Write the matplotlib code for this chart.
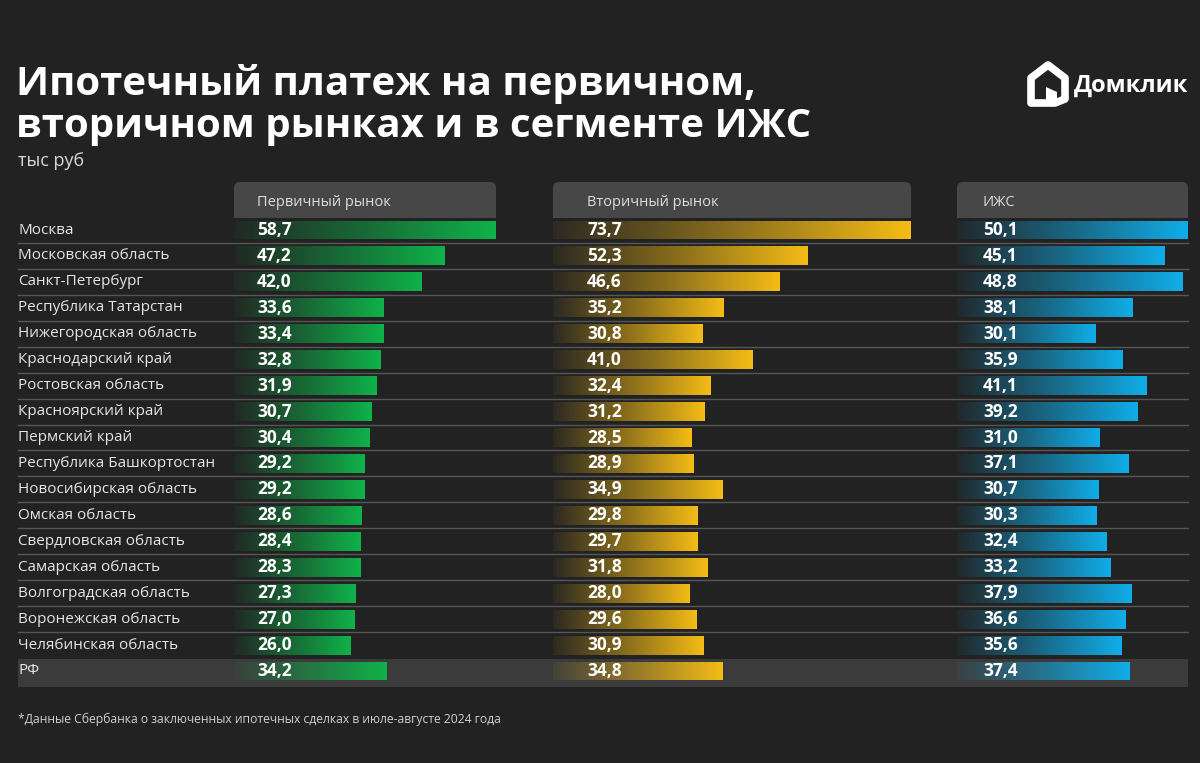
import matplotlib.pyplot as plt
import numpy as np
from matplotlib.colors import LinearSegmentedColormap, to_rgb
from matplotlib.patches import FancyBboxPatch, Rectangle, Polygon

plt.rcParams['font.family'] = ['Open Sans', 'DejaVu Sans']

regions = ["Москва", "Московская область", "Санкт-Петербург", "Республика Татарстан",
           "Нижегородская область", "Краснодарский край", "Ростовская область",
           "Красноярский край", "Пермский край", "Республика Башкортостан",
           "Новосибирская область", "Омская область", "Свердловская область",
           "Самарская область", "Волгоградская область", "Воронежская область",
           "Челябинская область", "РФ"]
primary = [58.7, 47.2, 42.0, 33.6, 33.4, 32.8, 31.9, 30.7, 30.4, 29.2, 29.2, 28.6, 28.4, 28.3, 27.3, 27.0, 26.0, 34.2]
secondary = [73.7, 52.3, 46.6, 35.2, 30.8, 41.0, 32.4, 31.2, 28.5, 28.9, 34.9, 29.8, 29.7, 31.8, 28.0, 29.6, 30.9, 34.8]
izhs = [50.1, 45.1, 48.8, 38.1, 30.1, 35.9, 41.1, 39.2, 31.0, 37.1, 30.7, 30.3, 32.4, 33.2, 37.9, 36.6, 35.6, 37.4]
headers = ["Первичный рынок", "Вторичный рынок", "ИЖС"]
colors = ["#0fb34a", "#f6bd16", "#10aeea"]

title = "Ипотечный платеж на первичном,\nвторичном рынках и в сегменте ИЖС"
unit = "тыс руб"
note = "*Данные Сбербанка о заключенных ипотечных сделках в июле-августе 2024 года"

BG = "#222222"
W, H = 1200, 763
# panel layout in pixels: (left, right, text offset)
panels = [(234, 496, 23), (553, 911, 34), (957, 1188, 26)]
row0, pitch = 230, 25.94
n = len(regions)

fig = plt.figure(figsize=(12, 7.63), dpi=100, facecolor=BG)
ax0 = fig.add_axes([0, 0, 1, 1])
ax0.set_xlim(0, W)
ax0.set_ylim(H, 0)
ax0.axis('off')

# title block
ax0.text(16, 137, title, fontsize=29, fontweight='bold', color='white', va='baseline', ha='left',
         linespacing=1.1)
ax0.text(18, 161, unit, fontsize=13, color='#d8d8d8', va='center')
ax0.text(18, 719, note, fontsize=8.7, color='#d0d0d0', va='center')

# logo
icon = [(1031, 78), (1048, 65), (1065, 78), (1065, 99), (1055, 103), (1031, 103)]
ax0.add_patch(Polygon(icon, closed=True, fill=False, ec='white', lw=5.5, joinstyle='round'))
ax0.add_patch(Polygon([(1046, 103), (1046, 87), (1057, 92), (1057, 103)], closed=True, fc='white', ec='none'))
ax0.text(1074, 86, "Домклик", fontsize=17, fontweight='bold', color='white', va='center')

# RF band and separators
ax0.add_patch(Rectangle((18, 659), 1170, 28, fc='#3b3b3b', ec='none'))
for i in range(n - 2):
    y = row0 + pitch * (i + 0.5)
    ax0.plot([18, 1188], [y, y], color='#565656', lw=1)

for i, r in enumerate(regions):
    ax0.text(18, row0 + pitch * i, r, fontsize=11, color='#e6e6e6', va='center')

# headers
for (x0, x1, off), h in zip(panels, headers):
    ax0.add_patch(FancyBboxPatch((x0, 182), x1 - x0, 36, boxstyle='round,pad=0,rounding_size=6',
                                 fc='#474747', ec='none'))
    ax0.add_patch(Rectangle((x0, 205), x1 - x0, 13, fc='#474747', ec='none'))
    ax0.text(x0 + off, 202, h, fontsize=10.5, color='#dddddd', va='center')

# bar panels
top_px = row0 - pitch / 2
bot_px = row0 + pitch * (n - 0.5)
grad = np.linspace(0, 1, 256).reshape(1, -1)
for (x0, x1, off), vals, c in zip(panels, [primary, secondary, izhs], colors):
    ax = fig.add_axes([x0 / W, 1 - bot_px / H, (x1 - x0) / W, (bot_px - top_px) / H])
    ax.patch.set_visible(False)
    ax.axis('off')
    rgb = to_rgb(c)
    cmap = LinearSegmentedColormap.from_list('g', [(*rgb, 0.05), (*rgb, 0.5), (*rgb, 1.0)])
    bars = ax.barh(range(n), vals, height=0.73, color='none', ec='none')
    for i, (b, v) in enumerate(zip(bars, vals)):
        im = ax.imshow(grad, cmap=cmap, extent=[0, v, i + 0.365, i - 0.365], aspect='auto',
                       interpolation='bilinear')
        im.set_clip_path(b)
        ax.text(off / (x1 - x0) * max(vals), i, f"{v:.1f}".replace('.', ','), fontsize=12.5,
                fontweight='bold', color='white', va='center')
    ax.set_xlim(0, max(vals))
    ax.set_ylim(n - 0.5, -0.5)

fig.savefig('out.png', dpi=100, facecolor=BG)
